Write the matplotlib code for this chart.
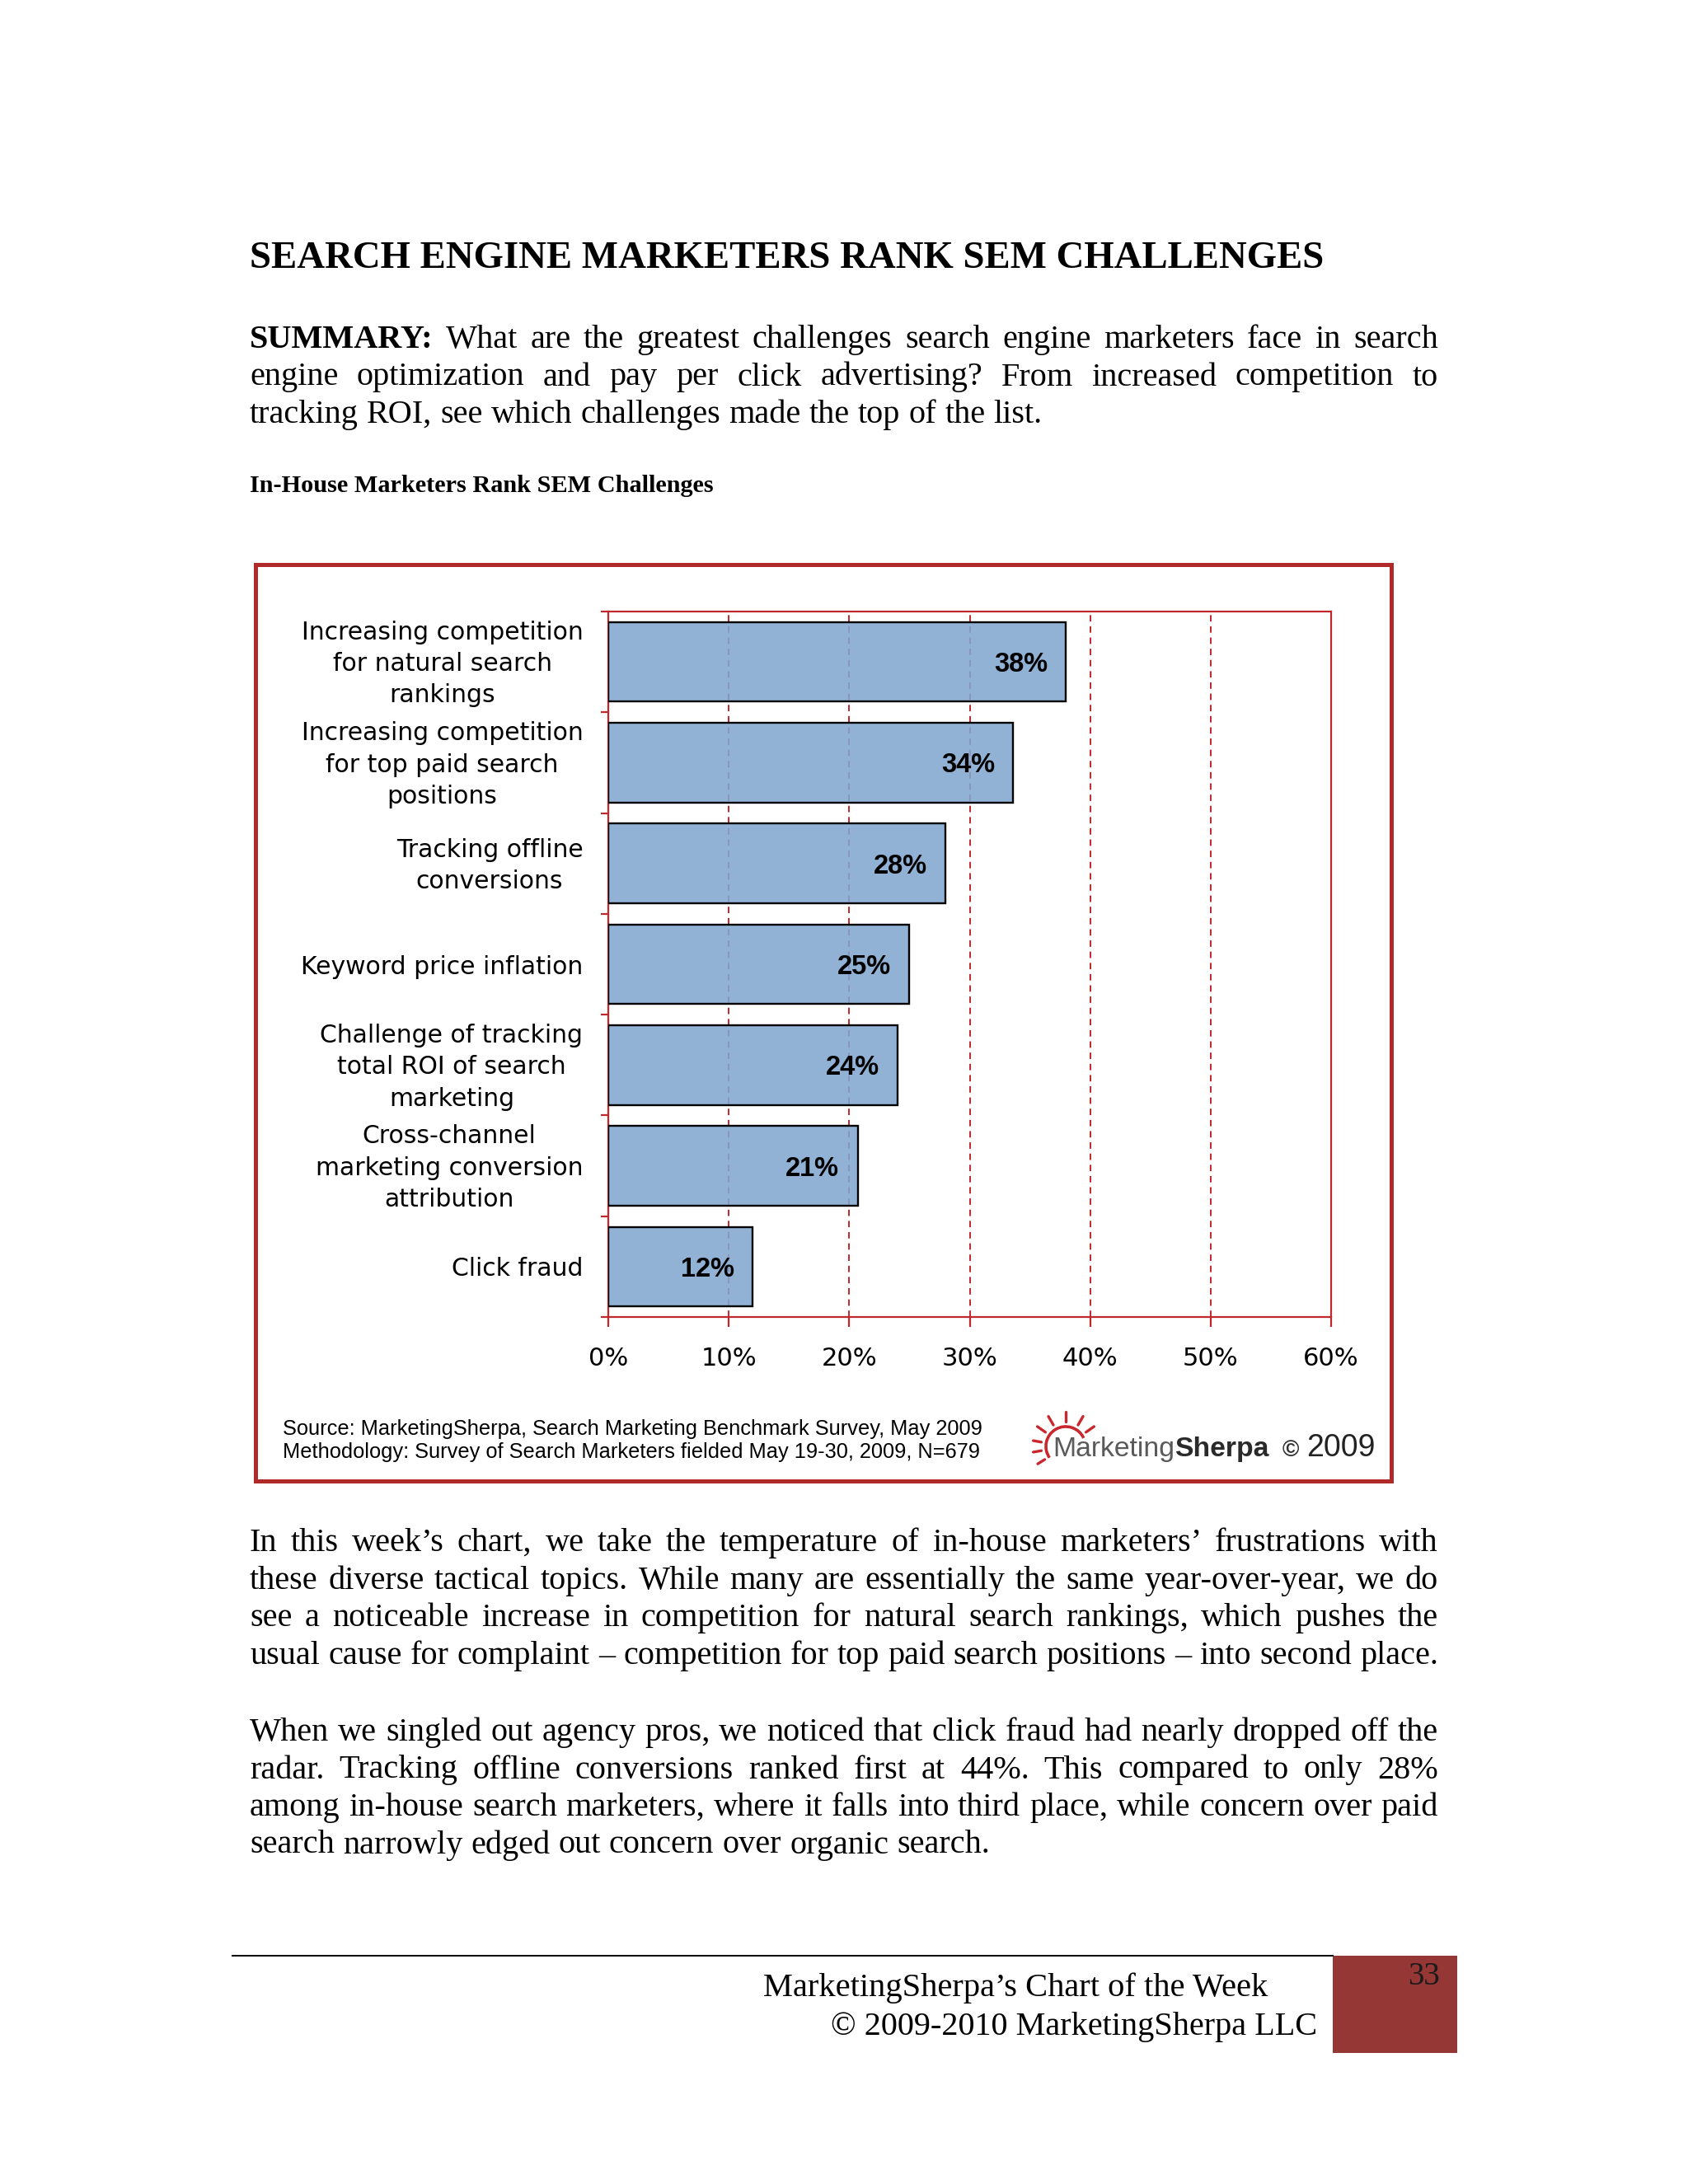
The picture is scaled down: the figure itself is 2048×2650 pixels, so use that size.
import matplotlib
matplotlib.use("Agg")
import matplotlib.pyplot as plt
from matplotlib.patches import Rectangle, Arc
from matplotlib.transforms import ScaledTranslation
import numpy as np


# ============================================================
# Data
# ============================================================
categories = [
    "Increasing competition\nfor natural search\nrankings",
    "Increasing competition\nfor top paid search\npositions",
    "Tracking offline\nconversions",
    "Keyword price inflation",
    "Challenge of tracking\ntotal ROI of search\nmarketing",
    "Cross-channel\nmarketing conversion\nattribution",
    "Click fraud",
]
values = [38.0, 33.6, 28.0, 25.0, 24.0, 20.7, 12.0]
x_ticks = [0, 10, 20, 30, 40, 50, 60]
x_tick_labels = ["0%", "10%", "20%", "30%", "40%", "50%", "60%"]

title = "SEARCH ENGINE MARKETERS RANK SEM CHALLENGES"
chart_caption = "In-House Marketers Rank SEM Challenges"
summary_lines = [
    "SUMMARY: What are the greatest challenges search engine marketers face in search",
    "engine optimization and pay per click advertising? From increased competition to",
    "tracking ROI, see which challenges made the top of the list.",
]
para2_lines = [
    "In this week\u2019s chart, we take the temperature of in-house marketers\u2019 frustrations with",
    "these diverse tactical topics. While many are essentially the same year-over-year, we do",
    "see a noticeable increase in competition for natural search rankings, which pushes the",
    "usual cause for complaint \u2013 competition for top paid search positions \u2013 into second place.",
]
para3_lines = [
    "When we singled out agency pros, we noticed that click fraud had nearly dropped off the",
    "radar. Tracking offline conversions ranked first at 44%. This compared to only 28%",
    "among in-house search marketers, where it falls into third place, while concern over paid",
    "search narrowly edged out concern over organic search.",
]
source_lines = [
    "Source: MarketingSherpa, Search Marketing Benchmark Survey, May 2009",
    "Methodology: Survey of Search Marketers fielded May 19-30, 2009, N=679",
]
footer_lines = [
    "MarketingSherpa\u2019s Chart of the Week",
    "\u00a9 2009-2010 MarketingSherpa LLC",
]
page_number = "33"


# ============================================================
# Style
# ============================================================
W, H = 2048, 2650
SERIF = "Liberation Serif"
SANS = "Liberation Sans"
CHART_FONT = "DejaVu Sans"

bar_color = (0.51, 0.65, 0.815, 0.88)
axis_red = "#C0282D"
frame_red = "#B02A2A"
footer_red = "#953735"
body_size = 29
TEXT_LEFT, TEXT_RIGHT = 303, 1745


def to_fig(x0, y0, x1, y1):
    # pixel box (top-left origin) -> figure fraction rect
    return [x0 / W, 1 - y1 / H, (x1 - x0) / W, (y1 - y0) / H]


fig = plt.figure(figsize=(W / 100, H / 100), dpi=100, facecolor="white")
renderer = fig.canvas.get_renderer()

# page axes in pixel units
page = fig.add_axes([0, 0, 1, 1])
page.set_xlim(0, W)
page.set_ylim(H, 0)
page.axis("off")


def text_width(t):
    return t.get_window_extent(renderer=renderer).width


def put_line(line, y, justify=True, bold_first=False):
    words = line.split(" ")
    items = []
    for i, word in enumerate(words):
        weight = "bold" if (bold_first and i == 0) else "normal"
        t = page.text(TEXT_LEFT, y, word, fontsize=body_size, family=SERIF,
                      fontweight=weight, va="baseline", ha="left")
        items.append((t, text_width(t)))
    total = sum(w for _, w in items)
    if justify and len(items) > 1:
        gap = (TEXT_RIGHT - TEXT_LEFT - total) / (len(items) - 1)
    else:
        gap = space_w
    x = TEXT_LEFT
    for t, w in items:
        t.set_x(x)
        x += w + gap


probe_a = page.text(0, 0, "a a", fontsize=body_size, family=SERIF)
probe_b = page.text(0, 0, "aa", fontsize=body_size, family=SERIF)
space_w = text_width(probe_a) - text_width(probe_b)
probe_a.remove()
probe_b.remove()

# ------------------------------------------------------------
# Heading and summary
# ------------------------------------------------------------
page.text(TEXT_LEFT, 325, title, fontsize=33.7, family=SERIF,
          fontweight="bold", va="baseline", ha="left")

for k, line in enumerate(summary_lines):
    put_line(line, 422 + k * 45.5, justify=k < len(summary_lines) - 1,
             bold_first=(k == 0))

page.text(TEXT_LEFT, 597, chart_caption, fontsize=21.8, family=SERIF,
          fontweight="bold", va="baseline", ha="left")

# ------------------------------------------------------------
# Chart frame
# ------------------------------------------------------------
page.add_patch(Rectangle((310, 685), 1378, 1112, facecolor="white",
                         edgecolor=frame_red, linewidth=3.6, zorder=1))

ax = fig.add_axes(to_fig(738, 742, 1615, 1598))
ax.set_zorder(3)
ax.set_facecolor("white")

y = np.arange(len(values))
ax.barh(y, values, height=0.79, color=bar_color, edgecolor="black",
        linewidth=1.7, zorder=3)
ax.set_xlim(0, 60)
ax.set_ylim(len(values) - 0.5, -0.5)

ax.set_axisbelow(True)
ax.grid(axis="x", color=axis_red, linestyle=(0, (4, 3)), linewidth=1.4)
ax.grid(axis="y", visible=False)

for s in ax.spines.values():
    s.set_color(axis_red)
    s.set_linewidth(1.6)

ax.set_xticks(x_ticks)
ax.set_xticklabels(x_tick_labels, fontsize=22, family=CHART_FONT)
ax.tick_params(axis="x", length=8.6, width=1.6, color=axis_red, pad=17)

ax.set_yticks(y)
ax.set_yticklabels(categories, fontsize=21.5, family=CHART_FONT,
                   multialignment="center", linespacing=1.4)
ax.set_yticks(np.arange(len(values) + 1) - 0.5, minor=True)
ax.tick_params(axis="y", which="major", length=0, pad=22)
ax.tick_params(axis="y", which="minor", length=6.5, width=1.6, color=axis_red)

# multi-line labels sit a little high in the original
nudge = ScaledTranslation(0, 5 / 100, fig.dpi_scale_trans)
for lab in ax.get_yticklabels():
    if "\n" in lab.get_text():
        lab.set_transform(lab.get_transform() + nudge)

for yi, v in zip(y, values):
    ax.annotate(f"{round(v)}%", (v, yi), xytext=(-16, 0),
                textcoords="offset points", ha="right", va="center_baseline",
                fontsize=23.5, family=SANS, fontweight="bold", zorder=5)

# source notes
for k, line in enumerate(source_lines):
    page.text(343, 1741 + k * 28, line, fontsize=18.3, family=SANS,
              va="baseline", ha="left", zorder=4)

# ------------------------------------------------------------
# MarketingSherpa logo
# ------------------------------------------------------------
sun_x, sun_y, sun_r = 1293, 1755, 24
page.add_patch(Arc((sun_x, sun_y), 2 * sun_r, 2 * sun_r, theta1=-215, theta2=-25,
                   color="#C8282D", linewidth=2.6, zorder=4))
for ang in np.radians([35, 60, 90, 120, 145]):
    page.plot([sun_x + 30 * np.cos(ang), sun_x + 42 * np.cos(ang)],
              [sun_y - 30 * np.sin(ang), sun_y - 42 * np.sin(ang)],
              color="#C8282D", linewidth=2.4, solid_capstyle="round", zorder=4)
for ang in np.radians([170, 190, 212]):
    page.plot([sun_x + 30 * np.cos(ang), sun_x + 40 * np.cos(ang)],
              [sun_y - 30 * np.sin(ang), sun_y - 40 * np.sin(ang)],
              color="#C8282D", linewidth=2.4, solid_capstyle="round", zorder=4)

t_mk = page.text(1277, 1767, "Marketing", fontsize=24.3, family=SANS,
                 color="#5A5A5A", va="baseline", ha="left", zorder=4)
page.text(1277 + text_width(t_mk), 1767, "Sherpa", fontsize=24.3, family=SANS,
          fontweight="bold", color="#2A2A2A", va="baseline", ha="left", zorder=4)
page.text(1556, 1767, "\u00a9", fontsize=20, family=SANS, fontweight="bold",
          color="#333333", va="baseline", ha="left", zorder=4)
page.text(1585, 1767, "2009", fontsize=27, family=SANS, color="#222222",
          va="baseline", ha="left", zorder=4)

# ------------------------------------------------------------
# Body paragraphs
# ------------------------------------------------------------
for k, line in enumerate(para2_lines):
    put_line(line, 1882 + k * 45.7, justify=True)
for k, line in enumerate(para3_lines):
    put_line(line, 2112 + k * 45.5, justify=k < len(para3_lines) - 1)

# ------------------------------------------------------------
# Footer
# ------------------------------------------------------------
page.plot([282, 1617], [2373, 2373], color="black", linewidth=1.4)
page.add_patch(Rectangle((1617, 2373), 151, 118, facecolor=footer_red,
                         edgecolor="none"))
page.text(1747, 2408, page_number, fontsize=28, family=SERIF, color="#1A1A1A",
          va="baseline", ha="right")
page.text(1538, 2422, footer_lines[0], fontsize=29.2, family=SERIF,
          va="baseline", ha="right")
page.text(1598, 2469, footer_lines[1], fontsize=29, family=SERIF,
          va="baseline", ha="right")

fig.savefig("out.png", dpi=100, facecolor="white")
